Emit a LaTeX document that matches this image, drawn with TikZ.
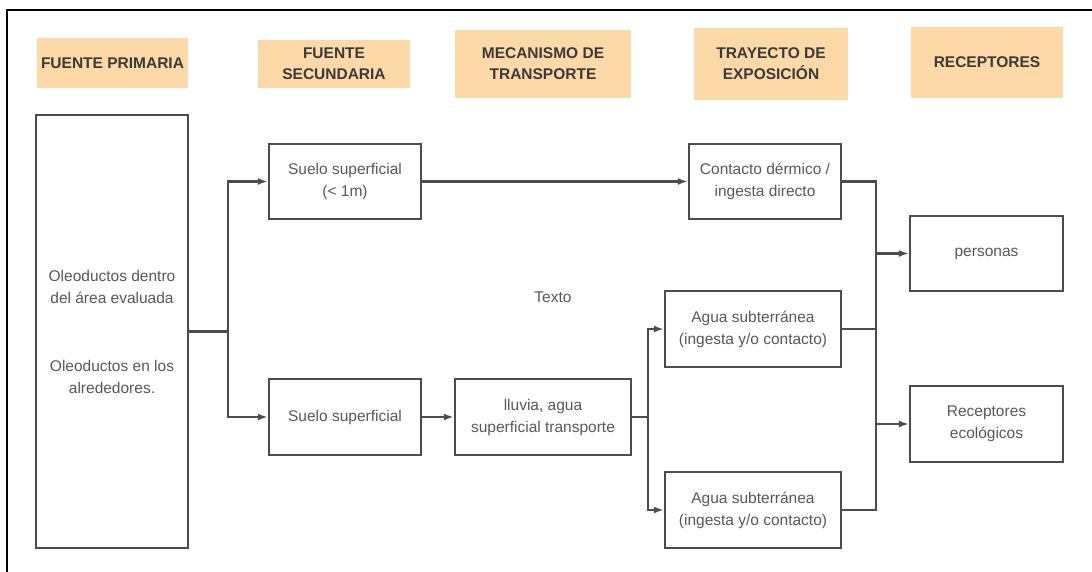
\documentclass[tikz,border=0pt]{standalone}
\usepackage{fontspec}
\setmainfont{Liberation Sans}
\usetikzlibrary{arrows.meta}
\definecolor{hdrfill}{RGB}{252,217,166}
\definecolor{hdrtext}{RGB}{58,58,58}
\definecolor{boxline}{RGB}{74,76,80}
\definecolor{bodytext}{RGB}{88,88,88}
\tikzset{
  % orange column titles
  hdr/.style={fill=hdrfill, text=hdrtext, align=center, inner sep=0pt,
    font=\fontsize{15.5}{21}\selectfont\bfseries},
  % white boxes with grey frame
  blk/.style={draw=boxline, line width=2.3pt, fill=white, text=bodytext,
    align=center, inner sep=0pt, font=\fontsize{15.5}{22}\selectfont},
  link/.style={draw=boxline, line width=2.2pt},
  arr/.style={link, -{Latex[length=10pt,width=7pt]}},
}
\begin{document}
\begin{tikzpicture}[x=1pt,y=-1pt]
\useasboundingbox (0,0) rectangle (1092,572);
\fill[white] (0,0) rectangle (1092,572);
\draw[black, line width=2pt] (7,572) -- (7,10) -- (1092,10);

% titles
\node[hdr, minimum width=151, minimum height=50] (hfp) at (112.5,63) {FUENTE PRIMARIA};
\node[hdr, minimum width=152, minimum height=48] (hfs) at (334,64) {FUENTE\\SECUNDARIA};
\node[hdr, minimum width=176, minimum height=68] (hmt) at (543,64) {MECANISMO DE\\TRANSPORTE};
\node[hdr, minimum width=154, minimum height=72] (hte) at (771,64) {TRAYECTO DE\\EXPOSICIÓN};
\node[hdr, minimum width=152, minimum height=71] (hre) at (987,62.5) {RECEPTORES};

% boxes
\node[blk, minimum width=152, minimum height=433] (prim) at (112,331.5)
  {Oleoductos dentro\\del área evaluada\\[46pt]Oleoductos en los\\alrededores.};
\node[blk, minimum width=152, minimum height=75] (sup1) at (345,181.5) {Suelo superficial\\(< 1m)};
\node[blk, minimum width=152, minimum height=76] (sup2) at (345,417) {Suelo superficial};
\node[blk, minimum width=176, minimum height=76] (lluv) at (543,417) {lluvia, agua\\superficial transporte};
\node[blk, minimum width=152, minimum height=75] (derm) at (765,181.5) {Contacto dérmico /\\ingesta directo};
\node[blk, minimum width=176, minimum height=76] (agua1) at (753,329) {Agua subterránea\\(ingesta y/o contacto)};
\node[blk, minimum width=176, minimum height=76] (agua2) at (753,510) {Agua subterránea\\(ingesta y/o contacto)};
\node[blk, minimum width=153, minimum height=75] (pers) at (986.5,253.5) {personas};
\node[blk, minimum width=153, minimum height=76] (ecol) at (986.5,424) {Receptores\\ecológicos};
\node[text=bodytext, font=\fontsize{15.5}{22}\selectfont] (txt) at (553,297) {Texto};

% connectors
\coordinate (j1) at (228,331.5);
\coordinate (j2) at (648,417);
\coordinate (j3) at (876,181.5);
\draw[link] (prim.east) -- (j1);
\draw[arr] (j1) |- (sup1.west);
\draw[arr] (j1) |- (sup2.west);
\draw[arr] (sup1) -- (derm);
\draw[arr] (sup2) -- (lluv);
\draw[link] (lluv.east) -- (j2);
\draw[arr] (j2) |- (agua1.west);
\draw[arr] (j2) |- (agua2.west);
\draw[link] (derm.east) -- (j3) -- (j3 |- agua2.east) -- (agua2.east);
\draw[link] (agua1.east) -- (agua1.east -| j3);
\draw[arr] (j3 |- pers.west) -- (pers.west);
\draw[arr] (j3 |- ecol.west) -- (ecol.west);
\end{tikzpicture}
\end{document}
